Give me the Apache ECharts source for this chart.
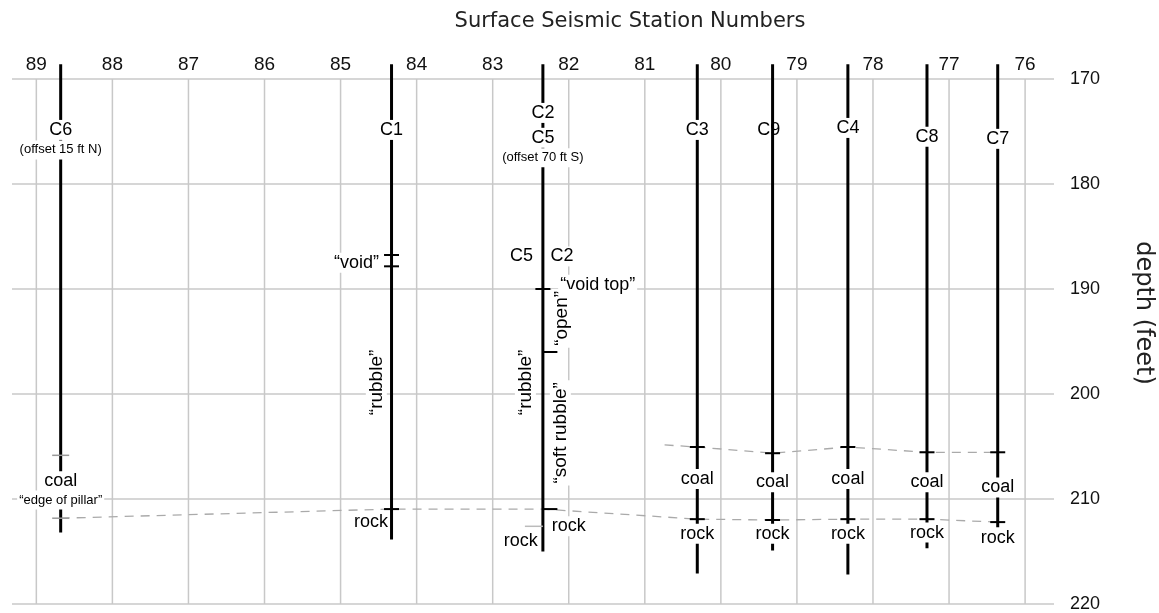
<!DOCTYPE html>
<html>
<head>
<meta charset="utf-8">
<script src="https://cdn.jsdelivr.net/npm/echarts@6/dist/echarts.min.js"></script>
<style>
  html, body { margin: 0; padding: 0; background: #fff; }
  #main { width: 1159px; height: 613px; }
</style>
</head>
<body>
<div id="main"></div>
<script>
// station numbers along the top (axis runs 89 -> 76)
var stations = [89, 88, 87, 86, 85, 84, 83, 82, 81, 80, 79, 78, 77, 76];
var depthMin = 170, depthMax = 220, depthStep = 10;

// boreholes
var holeNames   = ['C6', 'C1', 'C2/C5', 'C3', 'C9', 'C4', 'C8', 'C7'];
var holeStation = [88.68, 84.33, 82.34, 80.31, 79.32, 78.33, 77.29, 76.36];
var holeTop     = [168.6, 168.6, 168.6, 168.6, 168.6, 168.6, 168.6, 168.6];
var holeBottom  = [213.2, 213.85, 215.0, 217.1, 214.9, 217.2, 214.7, 212.7];

// dashed boundaries: top of coal, top of rock
var coalLineStation = [80.74, 80.31, 79.32, 78.33, 77.29, 76.36];
var coalLineDepth   = [204.85, 205.05, 205.64, 205.05, 205.55, 205.55];
var rockLineStation = [88.68, 84.33, 82.34, 80.31, 79.32, 78.33, 77.29, 76.36];
var rockLineDepth   = [211.83, 210.96, 210.96, 211.92, 212.0, 211.92, 211.92, 212.2];

// tick marks on the holes [station, depth]
var ticksBlack = [[80.31, 205.05], [79.32, 205.64], [78.33, 205.05], [77.29, 205.55], [76.36, 205.55],
                  [80.31, 211.92], [79.32, 212.0], [78.33, 211.92], [77.29, 211.92], [76.36, 212.2],
                  [84.33, 186.76], [84.33, 187.84], [84.33, 210.96], [82.34, 190.0]];
var ticksRight = [[82.34, 196.0], [82.34, 210.96]];
var ticksGray  = [[88.68, 205.84], [88.68, 211.83]];
var ticksGrayLeft = [[82.34, 212.6]];

// annotations [text, station, depth]
var bigLabels = [
  ['C6', 88.68, 174.85], ['C1', 84.33, 174.85], ['C2', 82.34, 173.23], ['C5', 82.34, 175.6],
  ['C3', 80.31, 174.85], ['C4', 78.33, 174.66], ['C8', 77.29, 175.5], ['C7', 76.36, 175.7],
  ['coal', 88.68, 208.3], ['coal', 80.31, 208.1], ['coal', 79.32, 208.4], ['coal', 78.33, 208.1],
  ['coal', 77.29, 208.4], ['coal', 76.36, 208.9],
  ['rock', 80.31, 213.3], ['rock', 79.32, 213.3], ['rock', 78.33, 213.3], ['rock', 77.29, 213.2],
  ['rock', 76.36, 213.75], ['rock', 84.6, 212.2], ['rock', 82.0, 212.6], ['rock', 82.63, 214.0],
  ['“void”', 84.79, 187.5], ['“void top”', 81.62, 189.6], ['C5', 82.62, 186.9], ['C2', 82.09, 186.9]
];
var smallLabels = [
  ['(offset 15 ft N)', 88.68, 176.75], ['(offset 70 ft S)', 82.34, 177.5], ['“edge of pillar”', 88.68, 210.1]
];
var plainLabels = [['C9', 79.37, 174.85]];
var sideLabels = [
  ['“rubble”', 84.53, 198.9], ['“rubble”', 82.57, 198.9], ['“open”', 82.09, 192.8], ['“soft rubble”', 82.11, 203.7]
];

function toItems(list) {
  return list.map(function (d) { return { name: d[0], value: [d[1], d[2]] }; });
}
function pts(xs, ys) {
  return xs.map(function (x, i) { return [x, ys[i]]; });
}

var myChart = echarts.init(document.getElementById('main'));
var font = 'Liberation Sans, Arial, sans-serif';

var series = [];

// vertical grid lines at each station
stations.forEach(function (s) {
  series.push({
    type: 'line',
    data: [[s, depthMin], [s, depthMax]],
    symbol: 'none',
    silent: true,
    lineStyle: { color: '#c8c8c8', width: 1.5 },
    z: 1
  });
});

// dashed boundaries
series.push({
  type: 'line', data: pts(coalLineStation, coalLineDepth), symbol: 'none', silent: true,
  lineStyle: { color: '#aaa', width: 1.3, type: [9, 7] }, z: 2
});
series.push({
  type: 'line', data: pts(rockLineStation, rockLineDepth), symbol: 'none', silent: true,
  lineStyle: { color: '#aaa', width: 1.3, type: [9, 7] }, z: 2
});

// boreholes
holeNames.forEach(function (n, i) {
  series.push({
    type: 'line',
    name: n,
    data: [[holeStation[i], holeTop[i]], [holeStation[i], holeBottom[i]]],
    symbol: 'none',
    clip: false,
    silent: true,
    lineStyle: { color: '#000', width: 3 },
    z: 3
  });
});

// ticks
series.push({ type: 'scatter', data: ticksBlack, symbol: 'rect', symbolSize: [15, 2], silent: true,
  itemStyle: { color: '#000', opacity: 1 }, z: 4 });
series.push({ type: 'scatter', data: ticksRight, symbol: 'rect', symbolSize: [15, 2], symbolOffset: [7, 0], silent: true,
  itemStyle: { color: '#000', opacity: 1 }, z: 4 });
series.push({ type: 'scatter', data: ticksGray, symbol: 'rect', symbolSize: [17, 1.5], silent: true,
  itemStyle: { color: '#999', opacity: 1 }, z: 4 });
series.push({ type: 'scatter', data: ticksGrayLeft, symbol: 'rect', symbolSize: [18, 1.5], symbolOffset: [-9, 0], silent: true,
  itemStyle: { color: '#bbb', opacity: 1 }, z: 4 });

// labels (own layer so the white boxes sit on top of the holes)
function labelSeries(list, label) {
  return {
    type: 'scatter',
    data: toItems(list),
    symbolSize: 0,
    silent: true,
    clip: false,
    zlevel: 1,
    z: 5,
    itemStyle: { opacity: 1 },
    label: Object.assign({
      show: true,
      position: 'inside',
      formatter: '{b}',
      color: '#000',
      opacity: 1,
      fontFamily: font
    }, label)
  };
}
series.push(labelSeries(bigLabels, { fontSize: 18, backgroundColor: '#fff', padding: [1, 2] }));
series.push(labelSeries(smallLabels, { fontSize: 13, backgroundColor: '#fff', padding: [4, 2, 2, 2] }));
series.push(labelSeries(plainLabels, { fontSize: 18 }));
series.push(labelSeries(sideLabels, { fontSize: 19, rotate: 90, backgroundColor: '#fff', padding: [1, 2] }));

option = {
  animation: false,
  backgroundColor: '#fff',
  textStyle: { fontFamily: font },
  grid: { left: 12, right: 105, top: 79, bottom: 8 },
  xAxis: {
    type: 'value',
    inverse: true,
    position: 'top',
    min: 75.62,
    max: 89.32,
    axisLine: { show: false },
    axisTick: { show: false },
    splitLine: { show: false },
    axisLabel: {
      customValues: stations,
      fontSize: 19,
      color: '#111',
      margin: 5
    }
  },
  yAxis: {
    type: 'value',
    inverse: true,
    position: 'right',
    min: depthMin,
    max: depthMax,
    interval: depthStep,
    axisLine: { show: false },
    axisTick: { show: false },
    axisLabel: { fontSize: 18, color: '#111', margin: 16 },
    splitLine: { show: true, lineStyle: { color: '#c8c8c8', width: 1.5 } }
  },
  graphic: [
    {
      type: 'text',
      x: 630, y: 22,
      style: {
        text: 'Surface Seismic Station Numbers',
        fill: '#222',
        font: '21px "DejaVu Sans"',
        textAlign: 'center',
        textVerticalAlign: 'middle'
      }
    },
    {
      type: 'text',
      x: 1143, y: 313,
      rotation: -Math.PI / 2,
      style: {
        text: 'depth (feet)',
        fill: '#222',
        font: '24px "DejaVu Sans"',
        textAlign: 'center',
        textVerticalAlign: 'middle'
      }
    }
  ],
  series: series
};

myChart.setOption(option);
</script>
</body>
</html>
